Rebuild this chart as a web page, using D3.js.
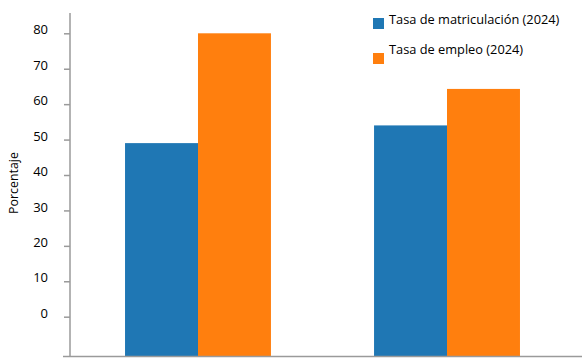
<!DOCTYPE html>
<html>
<head>
<meta charset="utf-8">
<script src="https://cdn.jsdelivr.net/npm/d3@7"></script>
<style>
  html, body { margin: 0; padding: 0; background: #fff; }
  svg { display: block; font-family: "Open Sans", "Liberation Sans", sans-serif; }
</style>
</head>
<body>
<svg id="chart" width="582" height="358"></svg>
<script>
// Two groups, two series each
const groups = ["Grupo 1", "Grupo 2"];
const seriesNames = ["Tasa de matriculación (2024)", "Tasa de empleo (2024)"];
const matriculacion = [49, 54];
const empleo = [80, 64.3];
const yTicks = [0, 10, 20, 30, 40, 50, 60, 70, 80];
const colors = ["#1f77b4", "#ff7f0e"];

const svg = d3.select("#chart");
const axisColor = "#9a9a9a";

const plotLeft = 70, plotTop = 13, plotBottom = 356.5;

const y = d3.scaleLinear().domain([0, 80]).range([316.7, 33.3]);

const x0 = d3.scaleBand().domain(groups).range([70, 575])
  .paddingInner(0.414).paddingOuter(0.221);
const x1 = d3.scaleBand().domain(seriesNames).range([0, x0.bandwidth()]);

const rows = groups.map((g, i) => ({ group: g, values: [matriculacion[i], empleo[i]] }));

// Bars rise from the bottom of the plot area
const gBars = svg.append("g");
rows.forEach(r => {
  gBars.selectAll(null)
    .data(r.values.map((v, j) => ({ key: seriesNames[j], v, j })))
    .join("rect")
    .attr("x", d => x0(r.group) + x1(d.key))
    .attr("width", x1.bandwidth())
    .attr("y", d => y(d.v))
    .attr("height", d => plotBottom - y(d.v))
    .attr("fill", d => colors[d.j]);
});

// Y axis
const yAxis = d3.axisLeft(y).tickValues(yTicks).tickSize(6).tickPadding(0).tickFormat(d3.format("d"));
const gy = svg.append("g").attr("transform", `translate(${plotLeft},0)`).call(yAxis);
gy.select(".domain").remove();
gy.selectAll(".tick line").attr("stroke", axisColor).attr("stroke-width", 1.5);
gy.selectAll(".tick text")
  .attr("x", -22).attr("dy", "0.05em")
  .attr("fill", "#000").style("font-size", "13px").style("font-family", "Open Sans, sans-serif");

svg.append("line")
  .attr("x1", plotLeft).attr("x2", plotLeft)
  .attr("y1", plotTop).attr("y2", plotBottom)
  .attr("stroke", axisColor).attr("stroke-width", 1.5);

// Baseline
svg.append("line")
  .attr("x1", 63).attr("x2", 582)
  .attr("y1", plotBottom).attr("y2", plotBottom)
  .attr("stroke", axisColor).attr("stroke-width", 1.5);

// Y axis title
svg.append("text")
  .attr("transform", `translate(18,183) rotate(-90)`)
  .attr("text-anchor", "middle")
  .style("font-size", "12.4px")
  .text("Porcentaje");

// Legend
const legend = svg.append("g");
const legendRows = [{ sq: 18, ty: 24 }, { sq: 53, ty: 54 }];
seriesNames.forEach((name, i) => {
  legend.append("rect")
    .attr("x", 373).attr("y", legendRows[i].sq)
    .attr("width", 11).attr("height", 11)
    .attr("fill", colors[i]);
  legend.append("text")
    .attr("x", 389).attr("y", legendRows[i].ty)
    .style("font-size", "12.8px")
    .text(name);
});
</script>
</body>
</html>
